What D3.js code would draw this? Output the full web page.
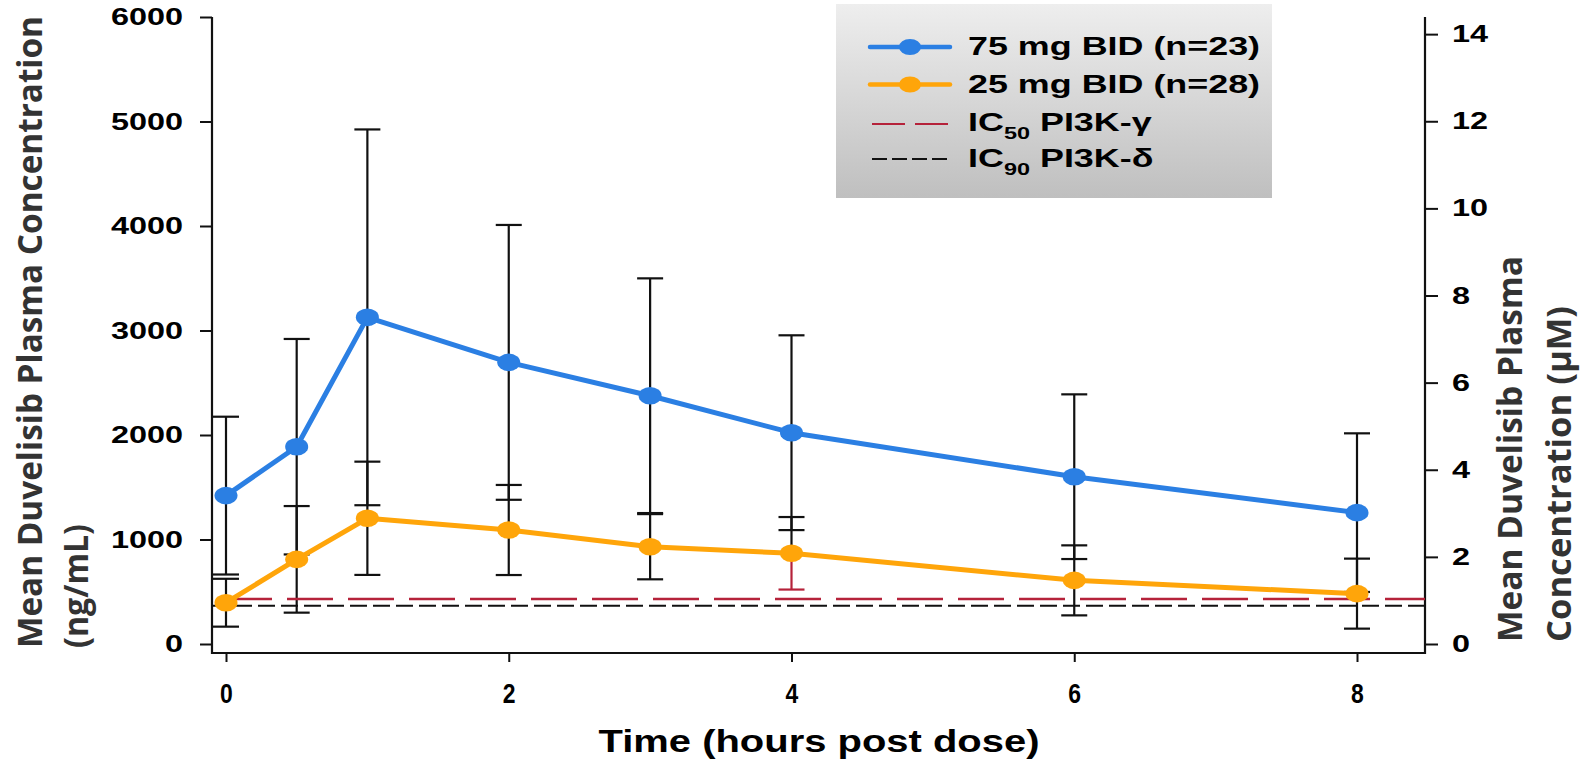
<!DOCTYPE html>
<html>
<head>
<meta charset="utf-8">
<script src="https://cdn.jsdelivr.net/npm/d3@7"></script>
<style>
  html, body { margin: 0; padding: 0; background: #fff; }
  svg { display: block; }
</style>
</head>
<body>
<svg id="chart" width="1585" height="760"></svg>
<script>
// ---------- data ----------
const times = [0, 0.5, 1, 2, 3, 4, 6, 8];
const mean75 = [1420, 1888, 3126, 2695, 2376, 2022, 1601, 1257];
const sd75 = [755, 1031, 1798, 1315, 1123, 932, 788, 759];
const mean25 = [395, 810, 1203, 1091, 931, 868, 609, 482];
const sd25 = [229, 510, 542, 431, 312, 347, 335, 335];
const ic50Gamma = 431;   // ng/mL
const ic90Delta = 366;   // ng/mL
const molWeight = 416.86; // g/mol, ng/mL -> µM
const leftTicks = [0, 1000, 2000, 3000, 4000, 5000, 6000];
const rightTicks = [0, 2, 4, 6, 8, 10, 12, 14];
const xTicks = [0, 2, 4, 6, 8];
const seriesNames = ["75 mg BID (n=23)", "25 mg BID (n=28)"];

// ---------- layout ----------
const svg = d3.select("#chart");
const axL = 212, axR = 1425, axB = 653, axT = 17;
const x = d3.scaleLinear().domain([0, 8]).range([226, 1357]);
const y = d3.scaleLinear().domain([0, 6000]).range([644, 17]);
const yR = d3.scaleLinear().domain([0, 6000 / molWeight]).range([644, 17]);
const SX = 1.38; // horizontal stretch of the original artwork
const blue = "#2b7fe3", orange = "#ffa50a", red = "#b5223a", ink = "#111";
const armFont = "'Liberation Sans', Arial, sans-serif";
const titleFont = "'Open Sans', 'Noto Sans', sans-serif";

function stretchTexts(sel, sx) {
  sel.each(function() {
    const t = d3.select(this);
    const tx = +t.attr("x") || 0;
    const ty = +t.attr("y") || 0;
    t.attr("x", 0).attr("y", 0)
     .attr("transform", `translate(${tx},${ty}) scale(${sx},1)`);
  });
}

// ---------- axes ----------
const gL = svg.append("g").attr("transform", `translate(${axL},0)`)
  .call(d3.axisLeft(y).tickValues(leftTicks).tickSize(12).tickPadding(17).tickFormat(d3.format("d")));
const gR = svg.append("g").attr("transform", `translate(${axR},0)`)
  .call(d3.axisRight(yR).tickValues(rightTicks).tickSize(13).tickPadding(14).tickFormat(d3.format("d")));
const gB = svg.append("g").attr("transform", `translate(0,${axB})`)
  .call(d3.axisBottom(x).tickValues(xTicks).tickSize(9).tickPadding(21).tickFormat(d3.format("d")));

[gL, gR, gB].forEach(g => {
  g.select(".domain").remove();
  g.selectAll(".tick line").attr("stroke", ink).attr("stroke-width", 2);
  g.selectAll(".tick text").attr("fill", "#000")
    .style("font-family", armFont).style("font-weight", "bold");
});
gL.selectAll(".tick text").style("font-size", "23.5px");
gR.selectAll(".tick text").style("font-size", "23.5px");
gB.selectAll(".tick text").style("font-size", "28px");
stretchTexts(gL.selectAll(".tick text"), SX);
stretchTexts(gR.selectAll(".tick text"), SX);
stretchTexts(gB.selectAll(".tick text"), 0.82);

svg.append("path")
  .attr("d", `M${axL},${axT}V${axB}H${axR}V${axT}`)
  .attr("fill", "none").attr("stroke", ink).attr("stroke-width", 2.2);

// ---------- error bars ----------
const capW = 13;
function errorBars(means, sds, lowColor) {
  const g = svg.append("g");
  times.forEach((t, i) => {
    const cx = x(t), hi = y(means[i] + sds[i]), lo = y(means[i] - sds[i]), m = y(means[i]);
    const lc = lowColor ? lowColor(i) : ink;
    g.append("line").attr("x1", cx).attr("x2", cx).attr("y1", hi).attr("y2", m)
      .attr("stroke", ink).attr("stroke-width", 2.2);
    g.append("line").attr("x1", cx - capW).attr("x2", cx + capW).attr("y1", hi).attr("y2", hi)
      .attr("stroke", ink).attr("stroke-width", 2.2);
    g.append("line").attr("x1", cx).attr("x2", cx).attr("y1", m).attr("y2", lo)
      .attr("stroke", lc).attr("stroke-width", 2.2);
    g.append("line").attr("x1", cx - capW).attr("x2", cx + capW).attr("y1", lo).attr("y2", lo)
      .attr("stroke", lc).attr("stroke-width", 2.2);
  });
}
errorBars(mean75, sd75);
errorBars(mean25, sd25, i => times[i] === 4 ? red : ink);

// ---------- reference lines ----------
svg.append("line").attr("x1", axL).attr("x2", axR).attr("y1", y(ic50Gamma)).attr("y2", y(ic50Gamma))
  .attr("stroke", red).attr("stroke-width", 2.5).attr("stroke-dasharray", "46,15").attr("stroke-dashoffset", 47);
svg.append("line").attr("x1", axL).attr("x2", axR).attr("y1", y(ic90Delta)).attr("y2", y(ic90Delta))
  .attr("stroke", "#111").attr("stroke-width", 2.2).attr("stroke-dasharray", "17,6");

// ---------- series ----------
const line = d3.line().x(d => x(d[0])).y(d => y(d[1]));
function series(means, color) {
  const pts = times.map((t, i) => [t, means[i]]);
  svg.append("path").datum(pts).attr("d", line)
    .attr("fill", "none").attr("stroke", color).attr("stroke-width", 5).attr("stroke-linejoin", "round");
  svg.append("g").selectAll("ellipse").data(pts).join("ellipse")
    .attr("cx", d => x(d[0])).attr("cy", d => y(d[1]))
    .attr("rx", 11.5).attr("ry", 8.8).attr("fill", color);
}
series(mean75, blue);
series(mean25, orange);

// ---------- axis titles ----------
function rotTitle(tx, ty, text, len) {
  svg.append("text").attr("transform", `translate(${tx},${ty}) rotate(-90)`)
    .attr("text-anchor", "start")
    .attr("textLength", len).attr("lengthAdjust", "spacingAndGlyphs")
    .style("font-family", titleFont).style("font-weight", "bold").style("font-size", "34px")
    .attr("fill", "#333").text(text);
}
rotTitle(42, 648, "Mean Duvelisib Plasma Concentration", 632);
rotTitle(88, 648, "(ng/mL)", 124);
rotTitle(1522, 642, "Mean Duvelisib Plasma", 386);
rotTitle(1571, 642, "Concentration (\u00B5M)", 336);

svg.append("text").attr("x", 819).attr("y", 752).attr("text-anchor", "middle")
  .attr("textLength", 441).attr("lengthAdjust", "spacingAndGlyphs")
  .style("font-family", armFont).style("font-weight", "bold").style("font-size", "32px")
  .attr("fill", "#000").text("Time (hours post dose)");

// ---------- legend ----------
const defs = svg.append("defs");
const grad = defs.append("linearGradient").attr("id", "lg").attr("x1", 0).attr("x2", 0).attr("y1", 0).attr("y2", 1);
grad.append("stop").attr("offset", "0%").attr("stop-color", "#eeeeee");
grad.append("stop").attr("offset", "100%").attr("stop-color", "#bfbfbf");
const lg = svg.append("g");
lg.append("rect").attr("x", 836).attr("y", 4).attr("width", 436).attr("height", 194).attr("fill", "url(#lg)");

const rowsY = [47, 84.5, 124, 159];
[[blue, 0], [orange, 1]].forEach(([c, i]) => {
  lg.append("line").attr("x1", 870).attr("x2", 950).attr("y1", rowsY[i]).attr("y2", rowsY[i])
    .attr("stroke", c).attr("stroke-width", 4.5).attr("stroke-linecap", "round");
  lg.append("ellipse").attr("cx", 910).attr("cy", rowsY[i]).attr("rx", 11).attr("ry", 8).attr("fill", c);
});
lg.append("line").attr("x1", 872).attr("x2", 948).attr("y1", rowsY[2]).attr("y2", rowsY[2])
  .attr("stroke", red).attr("stroke-width", 2.2).attr("stroke-dasharray", "33,10");
lg.append("line").attr("x1", 872).attr("x2", 948).attr("y1", rowsY[3]).attr("y2", rowsY[3])
  .attr("stroke", "#111").attr("stroke-width", 2.2).attr("stroke-dasharray", "15,5");

function legText(yb, build) {
  const t = lg.append("text").attr("transform", `translate(968,${yb}) scale(${SX},1)`)
    .style("font-family", armFont).style("font-weight", "bold").style("font-size", "26px").attr("fill", "#000");
  build(t);
}
legText(55, t => t.text(seriesNames[0]));
legText(93, t => t.text(seriesNames[1]));
legText(131, t => {
  t.append("tspan").text("IC");
  t.append("tspan").attr("dy", 8).style("font-size", "17px").text("50");
  t.append("tspan").attr("dy", -8).text(" PI3K-\u03B3");
});
legText(167, t => {
  t.append("tspan").text("IC");
  t.append("tspan").attr("dy", 8).style("font-size", "17px").text("90");
  t.append("tspan").attr("dy", -8).text(" PI3K-\u03B4");
});
</script>
</body>
</html>
